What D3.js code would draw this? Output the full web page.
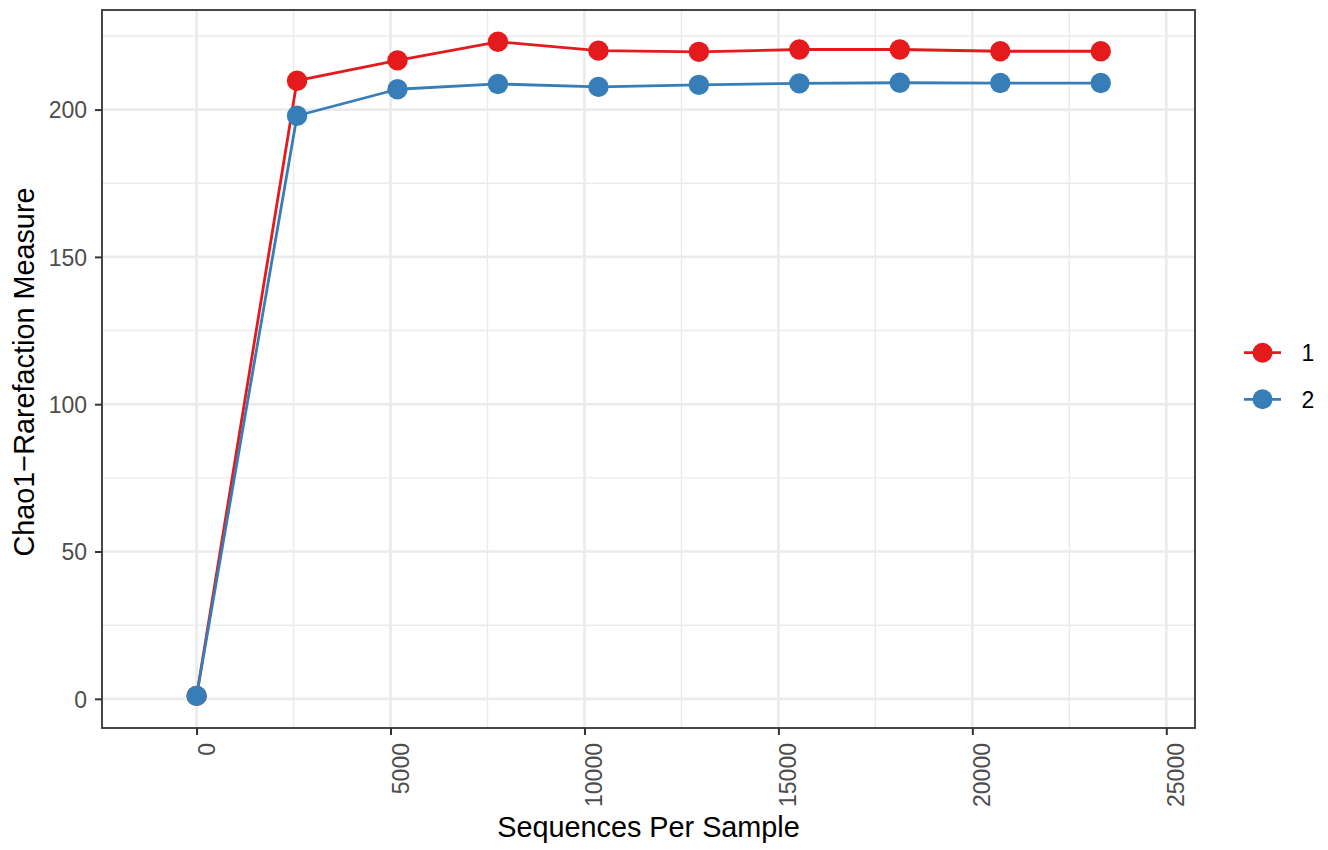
<!DOCTYPE html>
<html>
<head>
<meta charset="utf-8">
<script src="https://cdn.jsdelivr.net/npm/d3@7"></script>
<style>
  html, body { margin: 0; padding: 0; background: #fff; }
  svg text { font-family: "Liberation Sans", Arial, Helvetica, sans-serif; }
</style>
</head>
<body>
<svg id="chart" width="1328" height="850"></svg>
<script>
// Rarefaction depths (sequences per sample)
const depths = [1, 2590, 5180, 7770, 10360, 12950, 15540, 18130, 20720, 23310];

// Chao1 estimates for each group at each depth
const group1 = [1, 209.8, 216.7, 223.0, 220.0, 219.6, 220.4, 220.4, 219.8, 219.8];
const group2 = [1, 197.9, 206.9, 208.7, 207.7, 208.4, 208.9, 209.1, 209.0, 209.0];

const seriesNames = ["1", "2"];
const seriesColors = ["#E41A1C", "#377EB8"];

const xTicks = [0, 5000, 10000, 15000, 20000, 25000];
const xMinor = [2500, 7500, 12500, 17500, 22500];
const yTicks = [0, 50, 100, 150, 200];
const yMinor = [25, 75, 125, 175, 225];

const xTitle = "Sequences Per Sample";
const yTitle = "Chao1\u2212Rarefaction Measure";

const panel = { left: 102, right: 1195, top: 10, bottom: 728 };

const x = d3.scaleLinear().domain([-2438, 25740]).range([panel.left, panel.right]);
const y = d3.scaleLinear().domain([-9.9, 233.8]).range([panel.bottom, panel.top]);

const svg = d3.select("#chart");

const series = [group1, group2].map((vals, i) => ({
  name: seriesNames[i],
  color: seriesColors[i],
  points: depths.map((d, j) => ({ x: d, y: vals[j] }))
}));

// panel background
svg.append("rect")
  .attr("x", panel.left).attr("y", panel.top)
  .attr("width", panel.right - panel.left).attr("height", panel.bottom - panel.top)
  .attr("fill", "#fff");

const grid = svg.append("g");
// minor grid
grid.selectAll(".xminor").data(xMinor).join("line")
  .attr("class", "xminor")
  .attr("x1", d => x(d)).attr("x2", d => x(d))
  .attr("y1", panel.top).attr("y2", panel.bottom)
  .attr("stroke", "#EBEBEB").attr("stroke-width", 1.4);
grid.selectAll(".yminor").data(yMinor).join("line")
  .attr("class", "yminor")
  .attr("x1", panel.left).attr("x2", panel.right)
  .attr("y1", d => y(d)).attr("y2", d => y(d))
  .attr("stroke", "#EBEBEB").attr("stroke-width", 1.4);
// major grid
grid.selectAll(".xmajor").data(xTicks).join("line")
  .attr("class", "xmajor")
  .attr("x1", d => x(d)).attr("x2", d => x(d))
  .attr("y1", panel.top).attr("y2", panel.bottom)
  .attr("stroke", "#EBEBEB").attr("stroke-width", 2.6);
grid.selectAll(".ymajor").data(yTicks).join("line")
  .attr("class", "ymajor")
  .attr("x1", panel.left).attr("x2", panel.right)
  .attr("y1", d => y(d)).attr("y2", d => y(d))
  .attr("stroke", "#EBEBEB").attr("stroke-width", 2.6);

// lines
const line = d3.line().x(d => x(d.x)).y(d => y(d.y));
svg.append("g").selectAll("path").data(series).join("path")
  .attr("d", d => line(d.points))
  .attr("fill", "none")
  .attr("stroke", d => d.color)
  .attr("stroke-width", 2.8)
  .attr("stroke-linejoin", "round");

// points
svg.append("g").selectAll("g").data(series).join("g")
  .attr("fill", d => d.color)
  .selectAll("circle").data(d => d.points).join("circle")
  .attr("cx", d => x(d.x)).attr("cy", d => y(d.y)).attr("r", 10.2);

// panel border
svg.append("rect")
  .attr("x", panel.left).attr("y", panel.top)
  .attr("width", panel.right - panel.left).attr("height", panel.bottom - panel.top)
  .attr("fill", "none").attr("stroke", "#333333").attr("stroke-width", 1.8);

// x axis
const xAxis = d3.axisBottom(x).tickValues(xTicks).tickSize(7).tickFormat(d3.format("d"));
const gx = svg.append("g").attr("transform", `translate(0,${panel.bottom})`).call(xAxis);
gx.select(".domain").remove();
gx.selectAll(".tick line").attr("stroke", "#333333").attr("stroke-width", 2);
gx.selectAll(".tick text")
  .attr("fill", "#4D4D4D")
  .style("font-size", "23px")
  .attr("text-anchor", "end")
  .attr("transform", "rotate(-90)")
  .attr("x", -15)
  .attr("y", 0)
  .attr("dy", 17.5);

// y axis
const yAxis = d3.axisLeft(y).tickValues(yTicks).tickSize(7);
const gy = svg.append("g").attr("transform", `translate(${panel.left},0)`).call(yAxis);
gy.select(".domain").remove();
gy.selectAll(".tick line").attr("stroke", "#333333").attr("stroke-width", 2);
gy.selectAll(".tick text")
  .attr("fill", "#4D4D4D")
  .style("font-size", "23px")
  .attr("x", -15)
  .attr("dy", "0.36em");

// axis titles
svg.append("text")
  .attr("x", (panel.left + panel.right) / 2).attr("y", 837)
  .attr("text-anchor", "middle")
  .style("font-size", "28.8px").attr("fill", "#000")
  .text(xTitle);

svg.append("text")
  .attr("transform", `translate(33.5,${(panel.top + panel.bottom) / 2 + 3}) rotate(-90)`)
  .attr("text-anchor", "middle")
  .style("font-size", "28.8px").attr("fill", "#000")
  .text(yTitle);

// legend
const legend = svg.append("g");
const keys = legend.selectAll("g").data(series).join("g")
  .attr("transform", (d, i) => `translate(1262.5,${352.7 + i * 46.6})`);
keys.append("line")
  .attr("x1", -18.5).attr("x2", 18.5)
  .attr("stroke", d => d.color).attr("stroke-width", 2.8);
keys.append("circle").attr("r", 10).attr("fill", d => d.color);
keys.append("text")
  .attr("x", 39).attr("y", 8.3)
  .style("font-size", "23px").attr("fill", "#000")
  .text(d => d.name);
</script>
</body>
</html>
